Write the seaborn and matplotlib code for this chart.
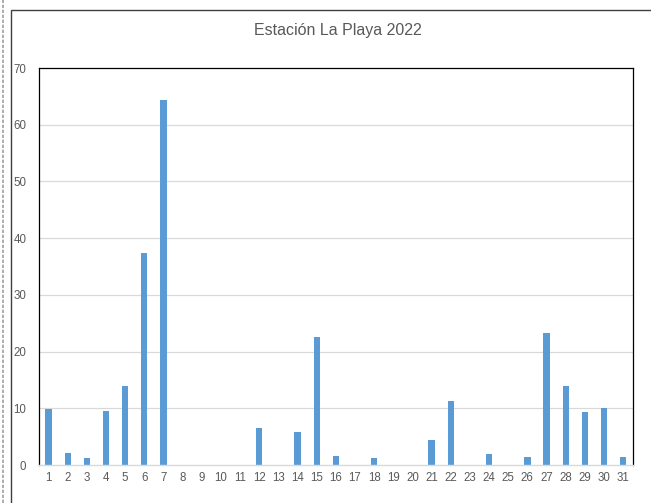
import matplotlib
matplotlib.use("Agg")
import matplotlib.pyplot as plt
import seaborn as sns
import pandas as pd
from matplotlib.patches import Rectangle
from matplotlib.lines import Line2D

days = [str(d) for d in range(1, 32)]
values = [9.9, 2.1, 1.2, 9.5, 13.9, 37.3, 64.3, 0, 0, 0, 0, 6.5, 0, 5.8, 22.5,
          1.6, 0, 1.2, 0, 0, 4.35, 11.35, 0, 1.9, 0, 1.4, 23.2, 13.9, 9.35, 10.05, 1.4]
yticks = [0, 10, 20, 30, 40, 50, 60, 70]
title = "Estación La Playa 2022"

sns.set_theme(style="white")
plt.rcParams['font.family'] = ['Liberation Sans', 'DejaVu Sans']

df = pd.DataFrame({"day": days, "value": values})

fig = plt.figure(figsize=(6.51, 5.03), dpi=100)
ax = fig.add_axes([39/651, 1-465/503, (632.7-39)/651, (465-68)/503])

sns.barplot(data=df, x="day", y="value", color="#5B9BD5", saturation=1,
            width=0.33, ax=ax, order=days, linewidth=0)

ax.set_ylim(0, 70)
ax.set_xlim(-0.5, 30.5)
ax.set_yticks(yticks)
ax.set_yticklabels([str(t) for t in yticks])
ax.set_xlabel("")
ax.set_ylabel("")
for t in yticks[1:-1]:
    ax.axhline(t, color="#d9d9d9", lw=0.9, zorder=0)
ax.tick_params(axis="both", length=0, labelsize=8.3, colors="#595959")
ax.tick_params(axis="y", pad=9)
ax.tick_params(axis="x", pad=5)
for s in ["left", "top", "right"]:
    ax.spines[s].set_color("#000000")
    ax.spines[s].set_linewidth(0.9)
ax.spines["bottom"].set_color("#d9d9d9")
ax.spines["bottom"].set_linewidth(1.0)
ax.set_axisbelow(True)

fig.text(338/651, 1-31/503, title, ha="center", va="center",
         fontsize=11.5, color="#595959")

# chart area border (partially visible)
fig.add_artist(Rectangle((10.5/651, -0.1), 1.0, 1 - 10.5/503 + 0.1,
                         transform=fig.transFigure, fill=False,
                         edgecolor="#404040", lw=1.0))
fig.add_artist(Line2D([2.5/651, 2.5/651], [0, 1], transform=fig.transFigure,
                      color="#a0a0a0", lw=1.2, ls=(0, (2, 1))))

fig.savefig("out.png", dpi=100)
